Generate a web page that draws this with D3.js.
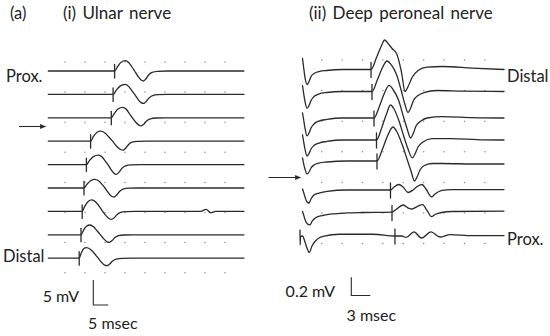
<!DOCTYPE html>
<html><head><meta charset="utf-8">
<script src="https://cdn.jsdelivr.net/npm/d3@7"></script>
<style>body{margin:0;background:#fff}svg{display:block}text{font-family:Lato,"Open Sans",sans-serif;fill:#222}</style>
</head><body>
<svg id="chart" width="550" height="336"></svg>
<script>
// ---------------- DATA ----------------
// (i) Ulnar nerve: onset latency (ms) of each sweep, top (Prox.) to bottom (Distal)
const ulnarOnsetMs = [22.1, 21.6, 21.0, 14.1, 12.7, 11.9, 11.3, 10.9, 10.3];
// waveform of each sweep: [ms after onset, mV]
const ulnarWaves = [
  [[0,0],[1,0.9],[2.17,1.76],[3.57,2.06],[4.67,1.7],[5.67,0.9],[6.67,0],[7.83,-1.1],[8.83,-1.8],[9.57,-2.0],[10.33,-1.64],[11.33,-0.8],[12.5,-0.28],[14.33,-0.06],[17.33,0]],
  [[0,0],[1,0.8],[2.33,1.66],[4,2],[5.17,1.6],[6.17,0.8],[7.17,0],[8.33,-1],[9.33,-1.64],[10.17,-1.8],[11,-1.44],[12,-0.7],[13.17,-0.24],[15,-0.06],[18,0]],
  [[0,0],[1,0.9],[2.33,1.8],[3.83,2.1],[5,1.7],[6,0.86],[7,0],[8.17,-0.9],[9.17,-1.46],[10,-1.6],[10.83,-1.28],[11.83,-0.6],[13,-0.2],[15,-0.04],[18,0]],
  [[0,0],[1,1],[2.17,1.8],[3.33,2],[4.67,1.7],[6,0.9],[7.33,0],[8.67,-1],[10,-1.66],[10.83,-1.8],[11.67,-1.4],[12.67,-0.66],[13.83,-0.2],[15.67,-0.04],[18.67,0]],
  [[0,0],[1,0.8],[2.33,1.6],[4,1.9],[5.17,1.56],[6.17,0.8],[7.17,0],[8.33,-1.1],[9.33,-1.8],[10,-1.94],[10.83,-1.56],[11.83,-0.76],[13,-0.24],[15,-0.04],[18,0]],
  [[0,0],[1,0.76],[2.33,1.5],[3.67,1.74],[4.83,1.44],[6,0.72],[7,0],[8.17,-1],[9.17,-1.66],[10,-1.8],[10.83,-1.44],[11.83,-0.7],[13,-0.22],[15,-0.04],[18,0]],
  [[0,0],[0.83,1],[2,2],[3.17,2.3],[4.5,1.9],[5.67,1],[6.83,0],[8,-0.9],[9,-1.46],[9.8,-1.6],[10.67,-1.26],[11.67,-0.6],[12.83,-0.2],[14.67,-0.04],[17.67,0],[39.5,0],[41.3,0.4],[42.8,-0.26],[44.5,0]],
  [[0,0],[0.83,0.9],[1.83,1.7],[3,1.96],[4.17,1.6],[5.33,0.8],[6.5,0],[7.67,-0.86],[8.67,-1.4],[9.43,-1.5],[10.33,-1.16],[11.33,-0.56],[12.5,-0.18],[14.33,-0.04],[17.33,0]],
  [[0,0],[0.67,1],[1.5,1.9],[2.33,2.1],[3.67,1.8],[5,1],[6.33,0],[7.5,-0.86],[8.5,-1.4],[9.33,-1.5],[10.17,-1.16],[11.17,-0.56],[12.33,-0.18],[14.33,-0.04],[17.33,0]]
];
const ulnarSweepMs = 65.2;
const ulnarScaleBar = [5, 5];          // [mV, msec]
const ulnarSideLabels = ["Prox.", "Distal"];

// (ii) Deep peroneal nerve: onset latency (ms) of each sweep, top (Distal) to bottom (Prox.)
const peronealOnsetMs = [10.9, 11.05, 11.37, 11.76, 11.84, 13.97, 14.21, 14.68];
// waveform of each sweep: [ms after stimulus, mV]
const peronealWaves = [
  [[0.08,0.12],[0.24,0.033],[0.47,-0.087],[0.79,-0.164],[1.11,-0.131],[1.42,-0.076],[1.9,-0.044],[2.69,-0.022],[3.95,-0.011],[6.32,0],[10.9,0],[11.77,0.131],[12.56,0.262],[13.04,0.322],[13.59,0.284],[14.22,0.229],[14.93,0.174],[15.72,-0.033],[16.27,-0.24],[16.75,-0.185],[17.38,-0.087],[18.33,-0.011],[19.75,0.027],[22.12,0.033],[26.86,0.016],[31.91,0]],
  [[0.08,0.065],[0.24,-0.011],[0.47,-0.109],[0.79,-0.185],[1.11,-0.153],[1.42,-0.098],[1.89,-0.055],[2.68,-0.027],[3.95,-0.011],[6.32,0],[11.05,0],[11.92,0.131],[12.71,0.262],[13.42,0.333],[14.05,0.295],[14.92,0.185],[15.71,0],[16.26,-0.142],[16.74,-0.229],[17.13,-0.185],[17.6,-0.098],[18.32,-0.044],[19.26,-0.011],[21.32,0.011],[25.26,0.005],[31.89,0]],
  [[0.08,0.055],[0.24,-0.011],[0.47,-0.109],[0.79,-0.196],[1.11,-0.164],[1.42,-0.109],[1.89,-0.065],[2.68,-0.033],[3.95,-0.016],[6.32,0],[11.37,0],[12.24,0.131],[13.03,0.273],[13.74,0.355],[14.37,0.311],[15.24,0.196],[16.03,0.011],[16.66,-0.131],[17.13,-0.218],[17.53,-0.175],[18.0,-0.087],[18.79,-0.033],[19.74,0],[22.11,0.016],[26.84,0.005],[31.89,0]],
  [[0.08,0.055],[0.24,-0.011],[0.47,-0.098],[0.79,-0.175],[1.11,-0.147],[1.42,-0.098],[1.89,-0.06],[2.68,-0.033],[3.95,-0.016],[6.32,0],[11.76,0],[12.63,0.142],[13.34,0.284],[13.97,0.382],[14.53,0.338],[15.32,0.207],[16.1,0.033],[16.74,-0.098],[17.41,-0.196],[17.84,-0.153],[18.32,-0.076],[19.1,-0.022],[20.53,0.016],[23.68,0.016],[27.63,0.005],[31.89,0]],
  [[0.08,0.033],[0.24,-0.022],[0.47,-0.087],[0.79,-0.142],[1.11,-0.12],[1.42,-0.076],[1.89,-0.044],[2.68,-0.022],[3.95,-0.011],[7.11,0],[11.84,0],[12.71,0.131],[13.5,0.273],[14.37,0.371],[15.0,0.316],[15.79,0.185],[16.58,0.022],[17.21,-0.109],[17.76,-0.218],[18.16,-0.175],[18.63,-0.098],[19.18,-0.055],[20.53,-0.027],[22.26,-0.027],[26.84,-0.033],[31.89,-0.033]],
  [[0.08,0.011],[0.24,-0.022],[0.47,-0.076],[0.79,-0.131],[1.11,-0.142],[1.42,-0.098],[1.89,-0.055],[2.68,-0.033],[3.95,-0.016],[7.11,0],[13.97,0],[14.53,0.033],[15.32,0.06],[15.95,0.033],[16.74,-0.027],[17.53,0],[18.32,0.044],[18.95,0.06],[19.58,0.011],[20.45,-0.076],[21.0,-0.044],[22.11,-0.005],[23.68,0.005],[31.89,0.005]],
  [[0.08,0.011],[0.24,-0.022],[0.47,-0.076],[0.79,-0.12],[1.26,-0.136],[1.58,-0.098],[2.21,-0.055],[3.16,-0.033],[4.74,-0.016],[7.11,-0.005],[9.47,0],[14.21,0.005],[14.84,0.033],[15.95,0.082],[16.89,0.044],[17.37,0.038],[18.16,0.065],[19.03,0.087],[19.74,0.022],[20.45,-0.044],[21.0,-0.022],[22.03,0],[23.68,0.011],[31.89,0.016]],
  [[-0.32,0.065],[-0.3,-0.098],[-0.24,-0.011],[0.08,0],[0.47,-0.065],[0.79,-0.131],[1.15,-0.18],[1.58,-0.109],[2.05,-0.06],[2.68,-0.022],[3.32,-0.005],[6.0,0.019],[11.21,0.019],[14.68,0],[15.79,0],[16.42,-0.016],[17.68,0.044],[18.87,-0.022],[20.37,0.044],[21.79,-0.011],[23.37,0.016],[26.84,0.005],[31.89,0.005]]
];
const peronealScaleBar = [0.2, 3];     // [mV, msec]
const peronealSideLabels = ["Distal", "Prox."];

const panelTitles = ["(a)", "(i) Ulnar nerve", "(ii) Deep peroneal nerve"];

// ---------------- LAYOUT ----------------
const ink = "#2a2a2a";
const svg = d3.select("#chart");

const ulnarBase = d3.range(9).map(i => 71 + i * 23.4);
const peronealBase = [69.5, 91.5, 118, 140, 161, 190, 212.5, 236];

const xL = d3.scaleLinear().domain([0, 5]).range([48.3, 63.3]);
const yL = d3.scaleLinear().domain([0, 5]).range([0, -25]);
const xR = d3.scaleLinear().domain([0, 3]).range([302, 321]);
const yR = d3.scaleLinear().domain([0, 0.2]).range([0, -18.33]);

// dotted grids
function dots(x0, dx, nx, y0, dy, ny) {
  const g = svg.append("g").attr("fill", "#8a8a8a");
  for (let j = 0; j < ny; j++) for (let i = 0; i < nx; i++)
    g.append("circle").attr("cx", x0 + i * dx).attr("cy", y0 + j * dy).attr("r", 0.75);
}
dots(65, 20, 9, 62, 30.1, 8);
dots(321.7, 20.4, 9, 60, 30.6, 7);

const traces = svg.append("g").attr("fill", "none").attr("stroke", ink)
  .attr("stroke-width", 1.3).attr("stroke-linejoin", "round").attr("stroke-linecap", "round");

// ulnar sweeps
ulnarWaves.forEach((w, i) => {
  const on = ulnarOnsetMs[i], b = ulnarBase[i];
  const pts = [[0, 0]].concat(w.map(p => [p[0] + on, p[1]]), [[ulnarSweepMs, 0]]);
  const ln = d3.line().x(d => xL(d[0])).y(d => b + yL(d[1])).curve(d3.curveMonotoneX);
  traces.append("path").attr("d", ln(pts));
  traces.append("line").attr("x1", xL(on)).attr("x2", xL(on))
    .attr("y1", b - 6.5).attr("y2", b + 7).attr("stroke-width", 1.3);
});

// peroneal sweeps
peronealWaves.forEach((w, i) => {
  const on = peronealOnsetMs[i], b = peronealBase[i];
  const ln = d3.line().x(d => xR(d[0])).y(d => b + yR(d[1])).curve(d3.curveMonotoneX);
  traces.append("path").attr("d", ln(w));
  traces.append("line").attr("x1", xR(on)).attr("x2", xR(on))
    .attr("y1", b - 7).attr("y2", b + 8).attr("stroke-width", 1.3);
});

// scale bars
function scaleBar(x0, yb, xs, ys, vals) {
  const h = Math.abs(ys(vals[0]) - ys(0)), w = xs(vals[1]) - xs(0);
  svg.append("path").attr("fill", "none").attr("stroke", ink).attr("stroke-width", 1.1)
    .attr("d", `M${x0},${yb - h}V${yb}H${x0 + w}`);
}
scaleBar(93.3, 305, xL, yL, ulnarScaleBar);
scaleBar(351.3, 295.5, xR, yR, peronealScaleBar);

const txt = (x, y, s, anchor, size) => svg.append("text").attr("x", x).attr("y", y)
  .attr("font-size", size || 16).attr("text-anchor", anchor || "start").text(s);

txt(79, 302, ulnarScaleBar[0] + " mV", "end");
txt(88, 329, ulnarScaleBar[1] + " msec");
txt(335, 297, peronealScaleBar[0] + " mV", "end");
txt(346.5, 321, peronealScaleBar[1] + " msec");

txt(10, 19, panelTitles[0], "start", 16.5);
txt(63, 19, panelTitles[1], "start", 17).attr("word-spacing", 2);
txt(309, 19, panelTitles[2], "start", 17).attr("word-spacing", 2);

txt(6, 81.5, ulnarSideLabels[0], "start", 16.5);
txt(3, 262, ulnarSideLabels[1], "start", 16.5);
txt(507, 81.5, peronealSideLabels[0], "start", 16.5);
txt(507, 245, peronealSideLabels[1], "start", 16.5);

// arrows
const defs = svg.append("defs");
defs.append("marker").attr("id", "ah").attr("viewBox", "0 0 10 10").attr("refX", 9).attr("refY", 5)
  .attr("markerWidth", 6).attr("markerHeight", 6).attr("markerUnits", "userSpaceOnUse").attr("orient", "auto")
  .append("path").attr("d", "M0,1L10,5L0,9Z").attr("fill", ink);
[[19, 45.5, 126.5], [268.5, 300.5, 177.5]].forEach(a => {
  svg.append("line").attr("x1", a[0]).attr("x2", a[1]).attr("y1", a[2]).attr("y2", a[2])
    .attr("stroke", ink).attr("stroke-width", 1.1).attr("marker-end", "url(#ah)");
});
</script>
</body></html>
